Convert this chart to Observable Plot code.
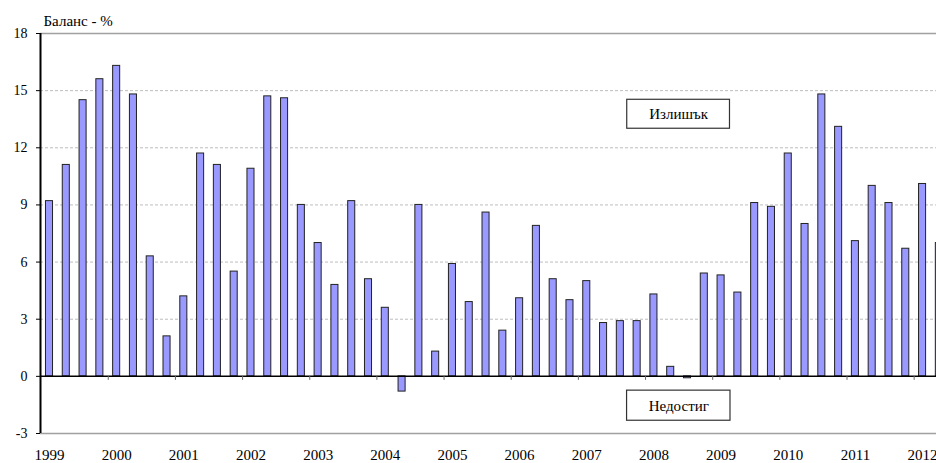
<!DOCTYPE html>
<html>
<head>
<meta charset="utf-8">
<script src="https://cdn.jsdelivr.net/npm/d3@7"></script>
<script src="https://cdn.jsdelivr.net/npm/@observablehq/plot@0.6"></script>
<style>
  html, body { margin: 0; padding: 0; background: #fff; overflow: hidden; }
  #chart { width: 936px; height: 463px; overflow: hidden; }
</style>
</head>
<body>
<div id="chart"></div>
<script>
// Quarterly balance (%), 1999 Q1 onward
const values = [
  9.2, 11.1, 14.5, 15.6,   // 1999
  16.3, 14.8, 6.3, 2.1,    // 2000
  4.2, 11.7, 11.1, 5.5,    // 2001
  10.9, 14.7, 14.6, 9.0,   // 2002
  7.0, 4.8, 9.2, 5.1,      // 2003
  3.6, -0.8, 9.0, 1.3,     // 2004
  5.9, 3.9, 8.6, 2.4,      // 2005
  4.1, 7.9, 5.1, 4.0,      // 2006
  5.0, 2.8, 2.9, 2.9,      // 2007
  4.3, 0.5, -0.1, 5.4,     // 2008
  5.3, 4.4, 9.1, 8.9,      // 2009
  11.7, 8.0, 14.8, 13.1,   // 2010
  7.1, 10.0, 9.1, 6.7,     // 2011
  10.1, 7.0                // 2012
];
const years = [1999, 2000, 2001, 2002, 2003, 2004, 2005, 2006, 2007, 2008, 2009, 2010, 2011, 2012];
const yTicks = [-3, 0, 3, 6, 9, 12, 15, 18];
const titleText = "Баланс - %";
const boxLabels = ["Излишък", "Недостиг"];

const bars = values.map((v, i) => ({i, v}));
const yearTicks = years.map((y, k) => ({pos: k * 4, year: y}));
const boundaries = years.slice(1).map((y, k) => (k + 1) * 4 - 0.5);

// annotation boxes (data coordinates)
const notes = [
  {text: boxLabels[0], cx: 37.47, cy: 13.76, hw: 3.06, hh: 0.76},
  {text: boxLabels[1], cx: 37.48, cy: -1.54, hw: 3.08, hh: 0.79}
];

const serif = "Liberation Serif";

const chart = Plot.plot({
  width: 936,
  height: 463,
  marginLeft: 40,
  marginRight: 0,
  marginTop: 33,
  marginBottom: 30,
  style: {fontSize: "14px", color: "#000", background: "#fff"},
  x: {type: "linear", domain: [-0.536, 52.83], axis: null},
  y: {domain: [-3, 18], axis: null},
  marks: [
    Plot.ruleY([3, 6, 9, 12, 15], {stroke: "#bdbdbd", strokeWidth: 1, strokeDasharray: "3,2"}),
    Plot.ruleY([18, -3], {stroke: "#a0a0a0", strokeWidth: 1.5}),
    Plot.rectY(bars, {
      x1: d => d.i - 0.21, x2: d => d.i + 0.21, y1: 0, y2: "v",
      fill: "#9999ff", stroke: "#222", strokeWidth: 1, clip: true
    }),
    Plot.ruleY([0], {stroke: "#000", strokeWidth: 1.5}),
    Plot.ruleX(boundaries, {x: d => d, y1: 0, y2: -0.21, stroke: "#666", strokeWidth: 1}),
    Plot.axisY({ticks: yTicks, tickSize: 4, tickPadding: 9, label: null, fontSize: 14, stroke: "#000",
      fontFamily: serif, tickFormat: d => String(d)}),
    Plot.ruleX([-0.536], {stroke: "#000", strokeWidth: 2}),
    Plot.axisX(yearTicks.map(d => d.pos), {
      tickSize: 0, tickPadding: 16, label: null, fontSize: 15, fontFamily: serif,
      tickFormat: p => String(years[p / 4])
    }),
    Plot.rect(notes, {
      x1: d => d.cx - d.hw, x2: d => d.cx + d.hw,
      y1: d => d.cy - d.hh, y2: d => d.cy + d.hh,
      fill: "#fff", stroke: "#333", strokeWidth: 1.2
    }),
    Plot.text(notes, {x: "cx", y: "cy", text: "text", fontSize: 15, fontFamily: serif, fill: "#000"}),
    Plot.text([titleText], {frameAnchor: "top-left", text: d => d, dx: 3, dy: -8, lineAnchor: "bottom", textAnchor: "start", fontSize: 15, fontFamily: serif, fill: "#000"})
  ]
});
chart.style.setProperty("font-family", "'Liberation Serif', serif", "important");
chart.querySelectorAll("text, tspan").forEach(t => {
  t.setAttribute("font-family", serif);
  t.style.setProperty("font-family", "'Liberation Serif', serif", "important");
});
document.getElementById("chart").appendChild(chart);
</script>
</body>
</html>
